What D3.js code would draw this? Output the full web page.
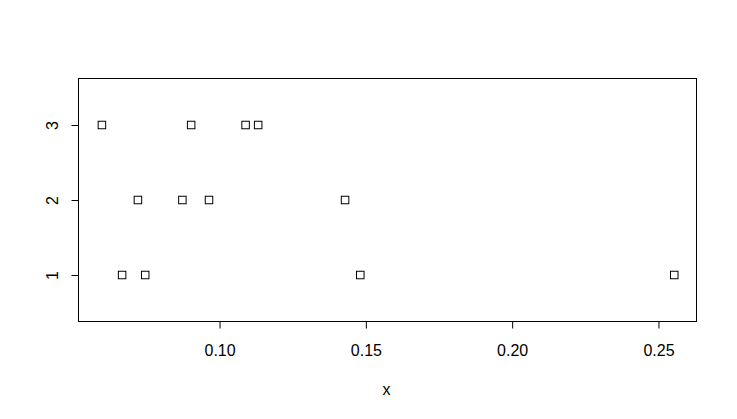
<!DOCTYPE html>
<html>
<head>
<meta charset="utf-8">
<script src="https://cdn.jsdelivr.net/npm/d3@7"></script>
<style>
  html, body { margin: 0; padding: 0; background: #fff; }
  svg { display: block; }
  text { font-family: "Liberation Sans", Arial, sans-serif; fill: #000; }
</style>
</head>
<body>
<svg id="chart" width="737" height="419"></svg>
<script>
// Data
const group1 = [0.0667, 0.0746, 0.1481, 0.2554];
const group2 = [0.0721, 0.0873, 0.0964, 0.1429];
const group3 = [0.0598, 0.0903, 0.1089, 0.1132];
const groups = [1, 2, 3];
const xTicks = [0.10, 0.15, 0.20, 0.25];
const xTitle = "x";

const seriesList = [group1, group2, group3];
const points = [];
seriesList.forEach((vals, i) => vals.forEach(v => points.push({ g: groups[i], v })));

const svg = d3.select("#chart");
const mLeft = 78.5, mRight = 696.5, mTop = 78.5, mBottom = 321.5;
const fontPx = 16;

const x = d3.scaleLinear().domain([0.0518, 0.2630]).range([mLeft, mRight]);
const y = d3.scaleLinear().domain([0.38, 3.62]).range([mBottom, mTop]);

// Box
svg.append("rect")
  .attr("x", mLeft).attr("y", mTop)
  .attr("width", mRight - mLeft).attr("height", mBottom - mTop)
  .attr("fill", "none").attr("stroke", "#000").attr("stroke-width", 1);

// X axis
const xAxis = svg.append("g").attr("transform", `translate(0,${mBottom})`)
  .call(d3.axisBottom(x).tickValues(xTicks).tickFormat(d3.format(".2f")).tickSizeOuter(0).tickSize(7));
xAxis.attr("font-size", fontPx).attr("font-family", '"Liberation Sans", Arial, sans-serif');
xAxis.select(".domain").attr("stroke", "none");
xAxis.selectAll("text").attr("dy", null).attr("y", 34.5);

// Y axis
const yAxis = svg.append("g").attr("transform", `translate(${mLeft},0)`)
  .call(d3.axisLeft(y).tickValues(groups).tickFormat(d3.format("d")).tickSizeOuter(0).tickSize(7));
yAxis.attr("font-size", fontPx).attr("font-family", '"Liberation Sans", Arial, sans-serif');
yAxis.select(".domain").attr("stroke", "none");
yAxis.selectAll("text")
  .attr("x", null).attr("dy", null)
  .attr("text-anchor", "middle")
  .attr("transform", "translate(-21,0) rotate(-90)");

// X title
svg.append("text")
  .attr("x", (mLeft + mRight) / 2 - 1).attr("y", 395)
  .attr("text-anchor", "middle")
  .attr("font-size", fontPx)
  .text(xTitle);

// Points (open squares)
const s = 7.5;
svg.append("g").selectAll("rect")
  .data(points)
  .join("rect")
  .attr("x", d => x(d.v) - s / 2)
  .attr("y", d => y(d.g) - s / 2)
  .attr("width", s).attr("height", s)
  .attr("fill", "none").attr("stroke", "#000").attr("stroke-width", 1);
</script>
</body>
</html>
